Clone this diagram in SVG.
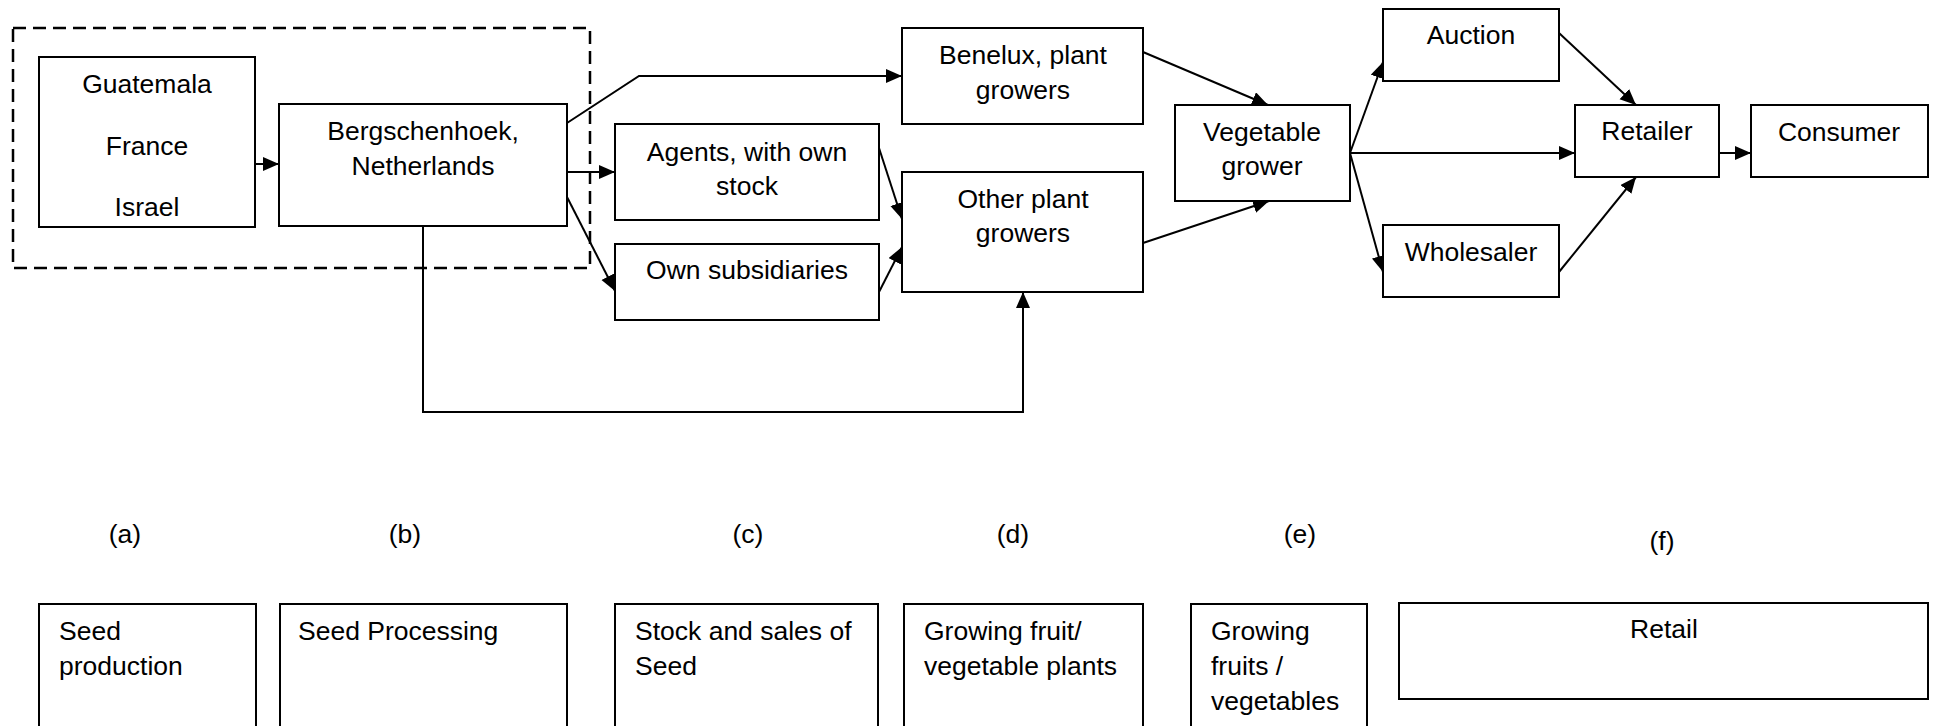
<svg xmlns="http://www.w3.org/2000/svg" width="1933" height="726" viewBox="0 0 1933 726">
<style>
.box{fill:#fff;stroke:#000;stroke-width:2}
.lg{fill:none;stroke:#000;stroke-width:2}
.t{font-family:"Liberation Sans",Arial,Helvetica,sans-serif;font-size:26.5px;fill:#000}
.c{text-anchor:middle}
.con{fill:none;stroke:#000;stroke-width:2}
.dash{fill:none;stroke:#000;stroke-width:2.5;stroke-dasharray:13 7}
</style>
<defs>
<marker id="ah" markerUnits="userSpaceOnUse" markerWidth="17" markerHeight="15" refX="16" refY="7" orient="auto" viewBox="0 0 17 15">
<path d="M0,0 L16,7 L0,14 z" fill="#000"/>
</marker>
</defs>
<rect width="1933" height="726" fill="#fff"/>
<g id="group-dashed"><rect class="dash" x="13" y="28" width="577" height="240"/></g>
<g id="connectors">
<path class="con" d="M255,164 L279,164" marker-end="url(#ah)"/>
<path class="con" d="M567,123 L639,76 L902,76" marker-end="url(#ah)"/>
<path class="con" d="M567,172 L615,172" marker-end="url(#ah)"/>
<path class="con" d="M567,197 L615,291" marker-end="url(#ah)"/>
<path class="con" d="M879,148 L902,219" marker-end="url(#ah)"/>
<path class="con" d="M879,292 L902,247" marker-end="url(#ah)"/>
<path class="con" d="M423,226 L423,412 L1023,412 L1023,292" marker-end="url(#ah)"/>
<path class="con" d="M1143,52 L1268,105" marker-end="url(#ah)"/>
<path class="con" d="M1143,243 L1269,201" marker-end="url(#ah)"/>
<path class="con" d="M1350,153 L1383,62" marker-end="url(#ah)"/>
<path class="con" d="M1350,153 L1575,153" marker-end="url(#ah)"/>
<path class="con" d="M1350,153 L1383,272" marker-end="url(#ah)"/>
<path class="con" d="M1559,33 L1636,105" marker-end="url(#ah)"/>
<path class="con" d="M1559,272 L1636,177" marker-end="url(#ah)"/>
<path class="con" d="M1719,153 L1751,153" marker-end="url(#ah)"/>
</g>
<g id="node-origins"><rect class="box" x="39" y="57" width="216" height="170"/>
<text class="t c" x="147" y="93">Guatemala</text><text class="t c" x="147" y="155">France</text><text class="t c" x="147" y="216">Israel</text></g>
<g id="node-bergschenhoek"><rect class="box" x="279" y="104" width="288" height="122"/>
<text class="t c" x="423" y="140">Bergschenhoek,</text><text class="t c" x="423" y="175">Netherlands</text></g>
<g id="node-benelux"><rect class="box" x="902" y="28" width="241" height="96"/>
<text class="t c" x="1023" y="64">Benelux, plant</text><text class="t c" x="1023" y="99">growers</text></g>
<g id="node-agents"><rect class="box" x="615" y="124" width="264" height="96"/>
<text class="t c" x="747" y="161">Agents, with own</text><text class="t c" x="747" y="195">stock</text></g>
<g id="node-subsidiaries"><rect class="box" x="615" y="244" width="264" height="76"/>
<text class="t c" x="747" y="279">Own subsidiaries</text></g>
<g id="node-other"><rect class="box" x="902" y="172" width="241" height="120"/>
<text class="t c" x="1023" y="208">Other plant</text><text class="t c" x="1023" y="242">growers</text></g>
<g id="node-vegetable"><rect class="box" x="1175" y="105" width="175" height="96"/>
<text class="t c" x="1262" y="141">Vegetable</text><text class="t c" x="1262" y="175">grower</text></g>
<g id="node-auction"><rect class="box" x="1383" y="9" width="176" height="72"/>
<text class="t c" x="1471" y="44">Auction</text></g>
<g id="node-wholesaler"><rect class="box" x="1383" y="225" width="176" height="72"/>
<text class="t c" x="1471" y="261">Wholesaler</text></g>
<g id="node-retailer"><rect class="box" x="1575" y="105" width="144" height="72"/>
<text class="t c" x="1647" y="140">Retailer</text></g>
<g id="node-consumer"><rect class="box" x="1751" y="105" width="177" height="72"/>
<text class="t c" x="1839" y="141">Consumer</text></g>
<g id="legend">
<text class="t c" x="125" y="543">(a)</text>
<text class="t c" x="405" y="543">(b)</text>
<text class="t c" x="748" y="543">(c)</text>
<text class="t c" x="1013" y="543">(d)</text>
<text class="t c" x="1300" y="543">(e)</text>
<text class="t c" x="1662" y="550">(f)</text>
<rect class="lg" x="39" y="604" width="217" height="140"/>
<text class="t" x="59" y="640">Seed</text><text class="t" x="59" y="675">production</text>
<rect class="lg" x="280" y="604" width="287" height="140"/>
<text class="t" x="298" y="640">Seed Processing</text>
<rect class="lg" x="615" y="604" width="263" height="140"/>
<text class="t" x="635" y="640">Stock and sales of</text><text class="t" x="635" y="675">Seed</text>
<rect class="lg" x="904" y="604" width="239" height="140"/>
<text class="t" x="924" y="640">Growing fruit/</text><text class="t" x="924" y="675">vegetable plants</text>
<rect class="lg" x="1191" y="604" width="176" height="140"/>
<text class="t" x="1211" y="640">Growing</text><text class="t" x="1211" y="675">fruits /</text><text class="t" x="1211" y="710">vegetables</text>
<rect class="lg" x="1399" y="603" width="529" height="96"/>
<text class="t c" x="1664" y="638">Retail</text>
</g>
</svg>
